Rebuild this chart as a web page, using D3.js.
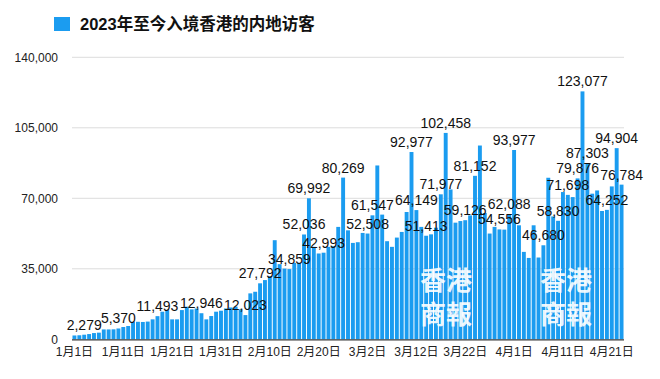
<!DOCTYPE html>
<html>
<head>
<meta charset="utf-8">
<script src="https://cdn.jsdelivr.net/npm/d3@7"></script>
<style>
  html, body { margin: 0; padding: 0; background: #fff; }
  svg { display: block; }
  text { font-family: "Liberation Sans", "Noto Sans CJK SC", sans-serif; }
</style>
</head>
<body>
<svg id="chart" width="660" height="379"></svg>
<script>
const title = "2023年至今入境香港的内地访客";

// Daily mainland visitors, 1 Jan – 23 Apr 2023 (113 days)
const values = [
  1900, 2000, 2279, 2600, 3100, 3300, 4900, 4900, 4950, 5370,
  6100, 6600, 8700, 8700, 8600, 8800, 9900, 11493, 13700, 14500,
  9900, 9900, 14500, 16200, 14850, 15300, 12946, 9900, 11550, 13700,
  14200, 15300, 15800, 16200, 14850, 12023, 22800, 23600, 27792, 29400,
  31350, 49200, 37300, 35100, 34859, 37950, 37950, 52036, 69992, 45900,
  42600, 42993, 45900, 46200, 55800, 80269, 54100, 47850, 48200, 52800,
  52508, 61547, 86300, 61900, 48700, 45900, 50500, 53300, 63200, 92977,
  64149, 55800, 51413, 52100, 55400, 71977, 102458, 74400, 57900, 58700,
  59126, 61500, 81152, 96200, 62700, 52500, 55800, 54556, 54450, 62088,
  93977, 56600, 43400, 40400, 56600, 40600, 46680, 80200, 61000, 58830,
  73100, 71698, 70600, 79876, 123077, 87303, 72300, 73900, 63700, 64252,
  75900, 94904, 76784
];

// Which bars carry a value label
const labeledIdx = [2, 9, 17, 26, 35, 38, 44, 47, 48, 51, 55, 60, 61, 69, 70, 72, 75, 76, 80, 82, 87, 89, 90, 96, 99, 101, 103, 104, 105, 109, 111, 112];

const yTicks = [0, 35000, 70000, 105000, 140000];
const xTickIdx = [0, 10, 20, 30, 40, 50, 60, 70, 80, 90, 100, 110];

const dates = values.map((v, i) => new Date(2023, 0, 1 + i));
const fmtDate = d => (d.getMonth() + 1) + "月" + d.getDate() + "日";
const fmtNum = d3.format(",");

const svg = d3.select("#chart");
const barColor = "#1b9cf0";

const x = d3.scaleBand().domain(d3.range(values.length)).range([72, 624]).paddingInner(0.2).paddingOuter(0.1);
const y = d3.scaleLinear().domain([0, 140000]).range([339.3, 57.3]);

// Title + legend swatch
svg.append("rect").attr("x", 54).attr("y", 17).attr("width", 16).attr("height", 14).attr("fill", barColor);
svg.append("text").attr("x", 80).attr("y", 30).attr("font-size", 16.5).attr("font-weight", "bold")
  .attr("fill", "#111")
  .style("font-family", "'Liberation Sans', 'Noto Sans CJK SC', sans-serif")
  .text(title);

// Grid lines
svg.append("g").selectAll("line").data(yTicks.filter(t => t > 0)).join("line")
  .attr("x1", 72).attr("x2", 624)
  .attr("y1", d => y(d)).attr("y2", d => y(d))
  .attr("stroke", "#dcdcdc").attr("stroke-width", 1);

// Y axis labels
const yAxis = d3.axisLeft(y).tickValues(yTicks).tickFormat(fmtNum).tickSize(0).tickPadding(0);
const gy = svg.append("g").attr("transform", "translate(58,0)").call(yAxis);
gy.select(".domain").remove();
gy.selectAll("text").attr("font-size", 12).attr("fill", "#222")
  .style("font-family", "'Liberation Sans', sans-serif");

// Bars
svg.append("g").selectAll("rect").data(values).join("rect")
  .attr("x", (d, i) => x(i)).attr("width", x.bandwidth())
  .attr("y", d => y(d)).attr("height", d => y(0) - y(d))
  .attr("fill", barColor);

// Baseline
svg.append("line").attr("x1", 72).attr("x2", 624).attr("y1", y(0) + 0.5).attr("y2", y(0) + 0.5)
  .attr("stroke", "#3a3a3a").attr("stroke-width", 1.2);

// X axis labels
const xAxis = d3.axisBottom(x).tickValues(xTickIdx).tickFormat(i => fmtDate(dates[i])).tickSize(0).tickPadding(0);
const gx = svg.append("g").attr("transform", "translate(0,347)").call(xAxis);
gx.select(".domain").remove();
gx.selectAll("text").attr("font-size", 12).attr("fill", "#222").attr("dy", "0.71em")
  .style("font-family", "'Liberation Sans', 'Noto Sans CJK SC', sans-serif");

// Watermarks
const wm = [[446, 280], [566, 280]];
wm.forEach(([cx, cy]) => {
  const g = svg.append("g").attr("fill", "#fff").attr("opacity", 0.9)
    .style("font-family", "'Noto Sans CJK TC', sans-serif").attr("font-weight", "bold")
    .attr("font-size", 26).attr("text-anchor", "middle");
  g.append("text").attr("x", cx).attr("y", cy + 10).text("香港");
  g.append("text").attr("x", cx).attr("y", cy + 44).text("商報");
});

// Value labels
svg.append("g").selectAll("text").data(labeledIdx).join("text")
  .attr("x", i => x(i) + x.bandwidth() / 2)
  .attr("y", i => y(values[i]) - 5)
  .attr("text-anchor", "middle")
  .attr("font-size", 14).attr("fill", "#111")
  .style("font-family", "'Liberation Sans', sans-serif")
  .text(i => fmtNum(values[i]));
</script>
</body>
</html>
